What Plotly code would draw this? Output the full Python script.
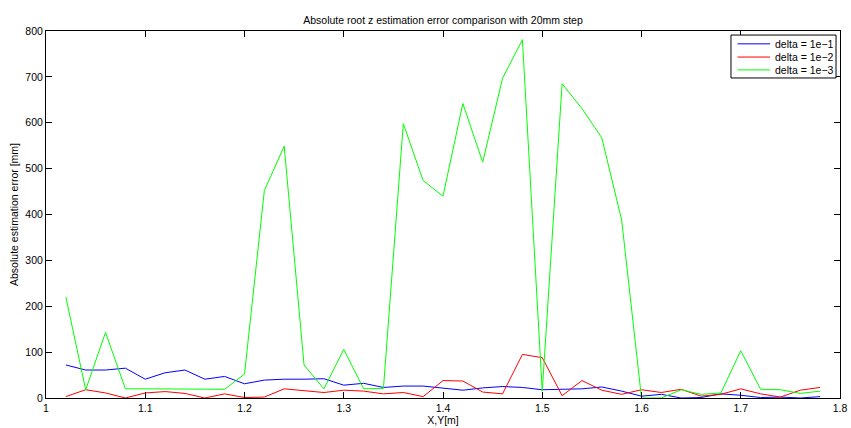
import plotly.graph_objects as go

x_vals = [round(1.02 + 0.02 * i, 2) for i in range(39)]

err_delta_1e1 = [72, 61, 61, 65, 41, 55, 61, 41, 47, 31, 39, 41, 41, 42, 28, 32, 23, 26, 26, 22,
                 17, 22, 25, 23, 18, 19, 20, 24, 15, 4, 8, 0, 1, 9, 6, 1, 2, 0, 3]
err_delta_1e2 = [3, 18, 11, 0, 11, 14, 10, 0, 9, 1, 2, 20, 16, 12, 17, 15, 9, 12, 3, 38,
                 37, 13, 9, 95, 88, 5, 38, 17, 8, 18, 12, 19, 4, 8, 20, 9, 2, 17, 23]
err_delta_1e3 = [220, 18, 143, 20, 20, 20, 20, 20, 19, 52, 452, 549, 72, 20, 106, 20, 21, 598, 474, 440,
                 642, 514, 697, 781, 15, 685, 631, 567, 388, 0, 0, 18, 8, 11, 103, 19, 18, 10, 15]

series_names = ["delta = 1e\u22121", "delta = 1e\u22122", "delta = 1e\u22123"]
series_colors = ["#0000ff", "#ff0000", "#00ff00"]
series_data = [err_delta_1e1, err_delta_1e2, err_delta_1e3]

x_ticks = [1, 1.1, 1.2, 1.3, 1.4, 1.5, 1.6, 1.7, 1.8]
x_tick_text = ["1", "1.1", "1.2", "1.3", "1.4", "1.5", "1.6", "1.7", "1.8"]
y_ticks = [0, 100, 200, 300, 400, 500, 600, 700, 800]

fig = go.Figure()
for name, color, ys in zip(series_names, series_colors, series_data):
    fig.add_trace(go.Scatter(x=x_vals, y=ys, mode="lines", name=name,
                             line=dict(color=color, width=1), showlegend=False))

font_family = "Liberation Sans, Arial, Helvetica, sans-serif"
fs = 10.5
axis_common = dict(showgrid=False, zeroline=False, showline=True, linecolor="black",
                   linewidth=1, mirror="ticks", ticks="inside", ticklen=6, tickcolor="black",
                   automargin=False,
                   tickfont=dict(size=fs, color="black", family=font_family))

# Manual MATLAB-style legend (paper coordinates)
leg_x0, leg_x1, leg_y0, leg_y1 = 0.8627, 0.995, 0.872, 0.989
row_y = [0.965, 0.929, 0.894]
line_x0, line_x1, text_x = 0.871, 0.912, 0.916

shapes = [dict(type="rect", xref="paper", yref="paper", x0=leg_x0, x1=leg_x1, y0=leg_y0, y1=leg_y1,
               line=dict(color="black", width=1), fillcolor="white", layer="above")]
annotations = []
for name, color, ry in zip(series_names, series_colors, row_y):
    shapes.append(dict(type="line", xref="paper", yref="paper", x0=line_x0, x1=line_x1, y0=ry, y1=ry,
                       line=dict(color=color, width=1), layer="above"))
    annotations.append(dict(xref="paper", yref="paper", x=text_x, y=ry, xanchor="left", yanchor="middle",
                            text=name, showarrow=False,
                            font=dict(size=fs, color="black", family=font_family)))

fig.update_layout(
    width=851, height=428,
    paper_bgcolor="white", plot_bgcolor="white",
    margin=dict(l=46, r=11, t=31, b=30),
    title=dict(text="Absolute root z estimation error comparison with 20mm step",
               x=0.5, xref="paper", y=1, yref="paper", yanchor="bottom", pad=dict(b=7),
               automargin=False,
               font=dict(size=fs, color="black", family=font_family)),
    xaxis=dict(range=[1, 1.8], tickvals=x_ticks, ticktext=x_tick_text,
               title=dict(text="X,Y[m]", standoff=0,
                          font=dict(size=fs, color="black", family=font_family)),
               **axis_common),
    yaxis=dict(range=[0, 800], tickvals=y_ticks,
               title=dict(text="Absolute estimation error [mm]", standoff=4,
                          font=dict(size=fs, color="black", family=font_family)),
               **axis_common),
    shapes=shapes,
    annotations=annotations,
    showlegend=False,
)

fig.write_html("out.html", config={"displayModeBar": False},
               post_script="document.body.style.margin='0';document.body.style.padding='0';")
